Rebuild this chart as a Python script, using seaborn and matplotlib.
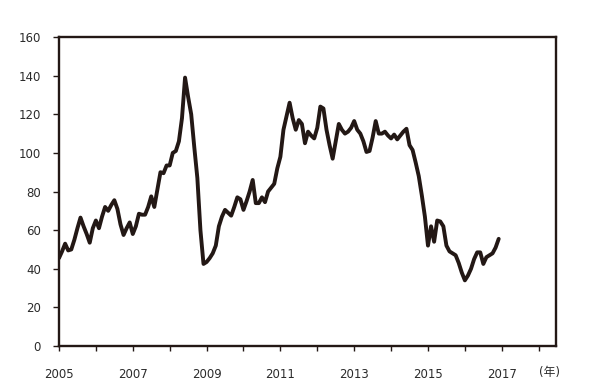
import numpy as np
import pandas as pd
import matplotlib
matplotlib.use("Agg")
import matplotlib.pyplot as plt
import seaborn as sns

# monthly price, one list per year (Jan..Dec)
p2005 = [45.5, 49, 53, 49.5, 50, 55, 61, 66.5, 62, 58, 53.5, 61]
p2006 = [65, 61, 67, 72, 70, 73, 75.5, 71, 63, 57.5, 61, 64]
p2007 = [58, 62, 68.5, 68, 68, 72, 77.5, 72, 81, 90, 89.5, 93.5]
p2008 = [93.5, 100, 101, 106, 118, 139, 129, 120, 103, 87, 60, 42.5]
p2009 = [43.5, 45.5, 48, 52, 62, 67, 70.5, 69, 67.5, 72, 77, 76]
p2010 = [70.5, 75, 80, 86, 74, 74, 77, 74.5, 80, 82, 84, 92]
p2011 = [98, 112, 119, 126, 118, 112, 117, 115, 105, 111, 109, 107.5]
p2012 = [113, 124, 123, 112, 104, 97, 106, 115, 112, 110, 111, 113]
p2013 = [116.5, 112, 110, 106, 100.5, 101, 108, 116.5, 110, 110, 111, 109]
p2014 = [107.5, 109.5, 107, 109, 111, 112.5, 104, 101.5, 95, 88, 78, 67]
p2015 = [52, 62, 54, 65, 64.5, 62, 52, 49, 48, 47, 43, 38]
p2016 = [34, 36.5, 40, 45, 48.5, 48.5, 42.5, 46, 47, 48, 51, 55.5]

years = list(range(2005, 2017))
series = [p2005, p2006, p2007, p2008, p2009, p2010,
          p2011, p2012, p2013, p2014, p2015, p2016]

tick_years = list(range(2005, 2019))
label_years = [2005, 2007, 2009, 2011, 2013, 2015, 2017]
y_ticks = [0, 20, 40, 60, 80, 100, 120, 140, 160]

rows = []
for yr, vals in zip(years, series):
    for m, v in enumerate(vals):
        rows.append({"t": yr + m / 12, "price": v})
df = pd.DataFrame(rows)

ink = "#231815"
txt = "#2b2b2b"

sns.set_theme(style="white")
plt.rcParams["font.family"] = ["DejaVu Sans", "Noto Sans CJK JP"]

fig = plt.figure(figsize=(6, 3.86), dpi=100)
ax = fig.add_axes([0.0983, 0.1036, 0.9267 - 0.0983, 0.904 - 0.1036])

sns.lineplot(data=df, x="t", y="price", color=ink, linewidth=2.8,
             solid_joinstyle="round", solid_capstyle="round", ax=ax)

ax.set_xlim(2005, 2018.47)
ax.set_ylim(0, 160)
ax.set_xticks(tick_years)
ax.set_xticklabels([str(y) if y in label_years else "" for y in tick_years])
ax.set_yticks(y_ticks)
ax.set_xlabel("")
ax.set_ylabel("")

for s in ax.spines.values():
    s.set_visible(True)
    s.set_color(ink)
    s.set_linewidth(1.7)

ax.tick_params(axis="x", bottom=True, direction="out", length=3.5, width=1,
               color=ink, pad=12, labelsize=8.5, labelcolor=txt)
ax.tick_params(axis="y", left=True, direction="out", length=4, width=1,
               color=ink, pad=9, labelsize=8.5, labelcolor=txt)

ax.text(2018.3, -0.087, "(年)", transform=ax.get_xaxis_transform(),
        ha="center", va="center", fontsize=8.5, color=txt)

fig.savefig("out.png", dpi=100)
